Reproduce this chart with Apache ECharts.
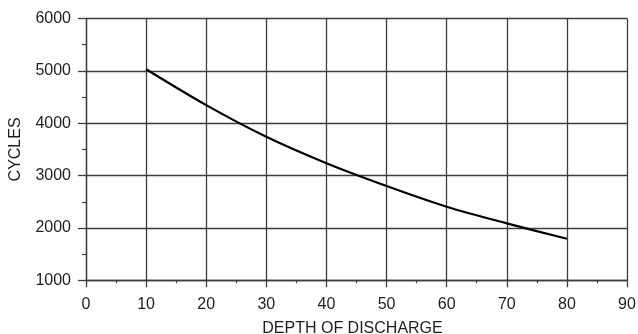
<!DOCTYPE html>
<html>
<head>
<meta charset="utf-8">
<script src="https://cdn.jsdelivr.net/npm/echarts@6/dist/echarts.min.js"></script>
<style>
  html, body { margin: 0; padding: 0; background: #fff; }
  #chart { width: 638px; height: 334px; }
</style>
</head>
<body>
<div id="chart"></div>
<script>
// Cycle life versus depth of discharge
const depthOfDischarge = [10, 20, 30, 40, 50, 60, 70, 80];
const cycles = [5030, 4345, 3740, 3235, 2800, 2405, 2088, 1794];
const xTicks = [0, 10, 20, 30, 40, 50, 60, 70, 80, 90];
const yTicks = [1000, 2000, 3000, 4000, 5000, 6000];

const gridColor = '#3c3c3c';
const textColor = '#1e1e1e';
const font = 'Liberation Sans, Arial, Helvetica, sans-serif';

const chart = echarts.init(document.getElementById('chart'), null, { renderer: 'canvas' });
chart.setOption({
  animation: false,
  backgroundColor: '#fff',
  grid: { left: 86, right: 11, top: 18.5, bottom: 53.7, containLabel: false, outerBoundsMode: 'none' },
  xAxis: {
    type: 'value',
    min: xTicks[0],
    max: xTicks[xTicks.length - 1],
    interval: 10,
    name: 'DEPTH OF DISCHARGE',
    nameLocation: 'middle',
    nameGap: 40.5,
    nameTextStyle: { color: textColor, fontSize: 16, fontFamily: font, padding: [0, 8, 0, 0] },
    axisLine: { lineStyle: { color: gridColor, width: 1.3 } },
    axisTick: { length: 7, lineStyle: { color: gridColor, width: 1.3 } },
    minorTick: { show: true, splitNumber: 2, length: 3, lineStyle: { color: gridColor, width: 1.2 } },
    axisLabel: { color: textColor, fontSize: 16, fontFamily: font, margin: 16, formatter: v => String(v) },
    splitLine: { show: true, lineStyle: { color: gridColor, width: 1.3 } }
  },
  yAxis: {
    type: 'value',
    min: yTicks[0],
    max: yTicks[yTicks.length - 1],
    interval: 1000,
    name: 'CYCLES',
    nameLocation: 'middle',
    nameGap: 62,
    nameRotate: 90,
    nameTextStyle: { color: textColor, fontSize: 16, fontFamily: font },
    axisLine: { show: true, lineStyle: { color: gridColor, width: 1.3 } },
    axisTick: { show: true, length: 8, lineStyle: { color: gridColor, width: 1.3 } },
    minorTick: { show: true, splitNumber: 2, length: 4, lineStyle: { color: gridColor, width: 1.2 } },
    axisLabel: { color: textColor, fontSize: 16, fontFamily: font, margin: 15, formatter: v => String(v) },
    splitLine: { show: true, lineStyle: { color: gridColor, width: 1.3 } }
  },
  series: [{
    type: 'line',
    data: depthOfDischarge.map((d, i) => [d, cycles[i]]),
    smooth: 0.3,
    symbol: 'none',
    lineStyle: { color: '#000', width: 2.2 },
    z: 5
  }]
});
</script>
</body>
</html>
